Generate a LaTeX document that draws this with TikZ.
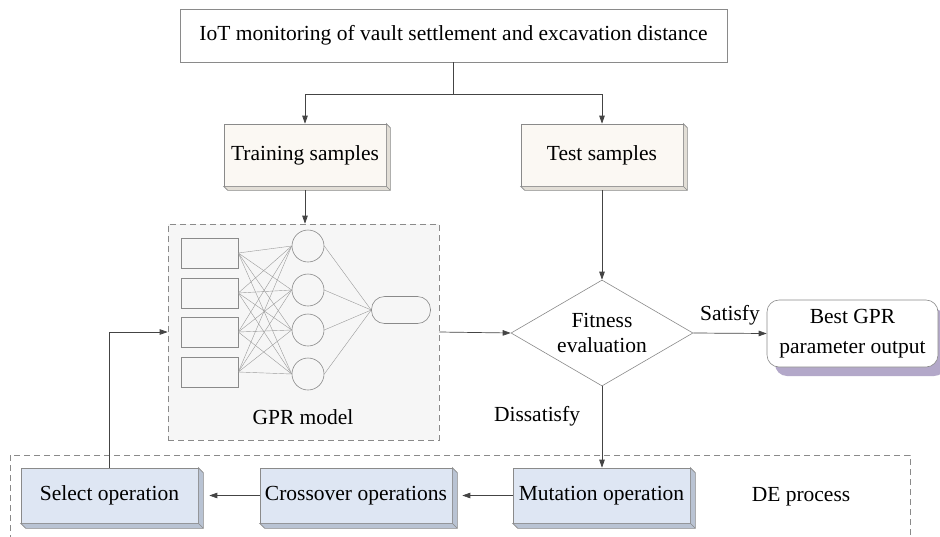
\documentclass[tikz,border=0pt]{standalone}
\usepackage{fontspec}
\setmainfont{Liberation Serif}
\usetikzlibrary{arrows.meta,shapes.geometric,calc}

\definecolor{creamface}{HTML}{FBF8F3}
\definecolor{creamedge}{HTML}{E2DED6}
\definecolor{blueface}{HTML}{DEE6F3}
\definecolor{blueedge}{HTML}{B9C3D3}
\definecolor{panelgray}{HTML}{F6F6F6}
\definecolor{shadowlav}{HTML}{B3A8C9}
\definecolor{linegray}{HTML}{8A8A8A}
\definecolor{wiregray}{HTML}{444444}
\definecolor{netgray}{HTML}{9A9A9A}

\tikzset{
  lbl/.style={font=\fontsize{21.5}{25}\selectfont},
  plainbox/.style={draw=linegray, line width=0.6pt, fill=white, inner sep=0pt, lbl},
  creambox/.style={draw=linegray, line width=0.6pt, fill=creamface, inner sep=0pt, lbl,
    minimum width=162pt, minimum height=62pt},
  bluebox/.style={draw=linegray, line width=0.6pt, fill=blueface, inner sep=0pt, lbl,
    minimum height=55pt},
  panel/.style={draw=linegray, line width=0.6pt, fill=panelgray, dash pattern=on 6pt off 4pt},
  wire/.style={draw=wiregray, line width=0.7pt},
  arr/.style={wire, -{Triangle[length=8pt,width=5.5pt]}},
  netline/.style={draw=netgray, line width=0.4pt},
  netbox/.style={draw=linegray, line width=0.6pt, inner sep=0pt, minimum width=57pt, minimum height=30pt},
  netnode/.style={draw=linegray, line width=0.6pt, circle, inner sep=0pt, minimum size=32pt},
}

% right/bottom bevel of a raised box
\newcommand{\boxbevel}[3]{%
  \filldraw[draw=linegray, line width=0.6pt, fill=#3]
    (#1.north east) -- ($(#1.north east)+(#2,#2)$) -- ($(#1.south east)+(#2,#2)$)
    -- ($(#1.south west)+(#2,#2)$) -- (#1.south west) -- (#1.south east) -- cycle;
  \draw[linegray, line width=0.6pt] (#1.south east) -- ($(#1.south east)+(#2,#2)$);
}

\begin{document}
\begin{tikzpicture}[x=1pt, y=-1pt]
\useasboundingbox (0,0) rectangle (940,536);
\clip (0,0) rectangle (940,536);

% DE process frame (open at the bottom edge)
\draw[draw=linegray, line width=0.6pt, dash pattern=on 6pt off 4pt] (10,455) rectangle (910,560);
\node[lbl] (delabel) at (801,497) {DE process};

% GPR model panel
\node[panel, minimum width=271pt, minimum height=216pt, inner sep=0pt] (gpr) at (303.5,332) {};
\node[lbl] (gprlabel) at (303,417) {GPR model};

% network sketch inside the panel
\foreach \i/\y in {1/253, 2/293, 3/332, 4/372} {
  \node[netbox] (in\i) at (209.5,\y) {};
}
\foreach \i/\y in {1/246, 2/290, 3/330, 4/374} {
  \node[netnode] (h\i) at (308,\y) {};
}
\node[draw=linegray, line width=0.6pt, rounded corners=13pt, inner sep=0pt,
      minimum width=59pt, minimum height=27pt] (out) at (401,310) {};
\foreach \i in {1,...,4} {
  \foreach \j in {1,...,4} {
    \draw[netline] (in\i.east) -- (h\j.west);
  }
  \draw[netline] (h\i.east) -- (out.west);
}

% top box and samples
\node[plainbox, minimum width=547pt, minimum height=53pt] (top) at (453.5,35.5)
  {IoT monitoring of vault settlement and excavation distance};
\node[creambox] (train) at (305,155) {Training samples};
\boxbevel{train}{4}{creamedge}
\node[creambox] (test) at (602,155) {Test samples};
\boxbevel{test}{4}{creamedge}

% fitness decision
\node[draw=linegray, line width=0.6pt, fill=white, diamond, inner sep=0pt,
      minimum width=182pt, minimum height=106pt] (fit) at (602,333) {};
\node[lbl, align=center] (fittext) at (fit.center) {Fitness\\evaluation};

% best parameter output with its shadow
\fill[shadowlav, rounded corners=12pt] (775,309) rectangle (946,376);
\node[plainbox, rounded corners=12pt, minimum width=171pt, minimum height=67pt,
      align=center, font=\fontsize{21.5}{30}\selectfont] (best) at (852.5,333.5)
  {Best GPR\\parameter output};

% DE operations
\node[bluebox, minimum width=177pt] (sel) at (109.5,495.5) {Select operation};
\boxbevel{sel}{5}{blueedge}
\node[bluebox, minimum width=192pt] (cross) at (356,495.5) {Crossover operations};
\boxbevel{cross}{5}{blueedge}
\node[bluebox, minimum width=177pt] (mut) at (601.5,495.5) {Mutation operation};
\boxbevel{mut}{5}{blueedge}

% connectors
\draw[wire] (top.south) -- ++(0,32) coordinate (split);
\draw[arr] (split) -| (train.north);
\draw[arr] (split) -| (test.north);
\draw[arr] ($(train.south)+(0,4)$) -- (train.south |- gpr.north);
\draw[arr] ($(test.south)+(0,4)$) -- (fit.north);
\draw[arr] (gpr.east) -- (fit.west);
\draw[arr] (fit.east) -- node[lbl, above=4pt] (sat) {Satisfy} (best.west);
\draw[arr] (fit.south) -- (fit.south |- mut.north);
\node[lbl] (dis) at (537,416) {Dissatisfy};
\draw[arr] (mut.west) -- ($(cross.east)+(10,0)$);
\draw[arr] (cross.west) -- ($(sel.east)+(11,0)$);
\draw[arr] (sel.north) |- (gpr.west);

\end{tikzpicture}
\end{document}
